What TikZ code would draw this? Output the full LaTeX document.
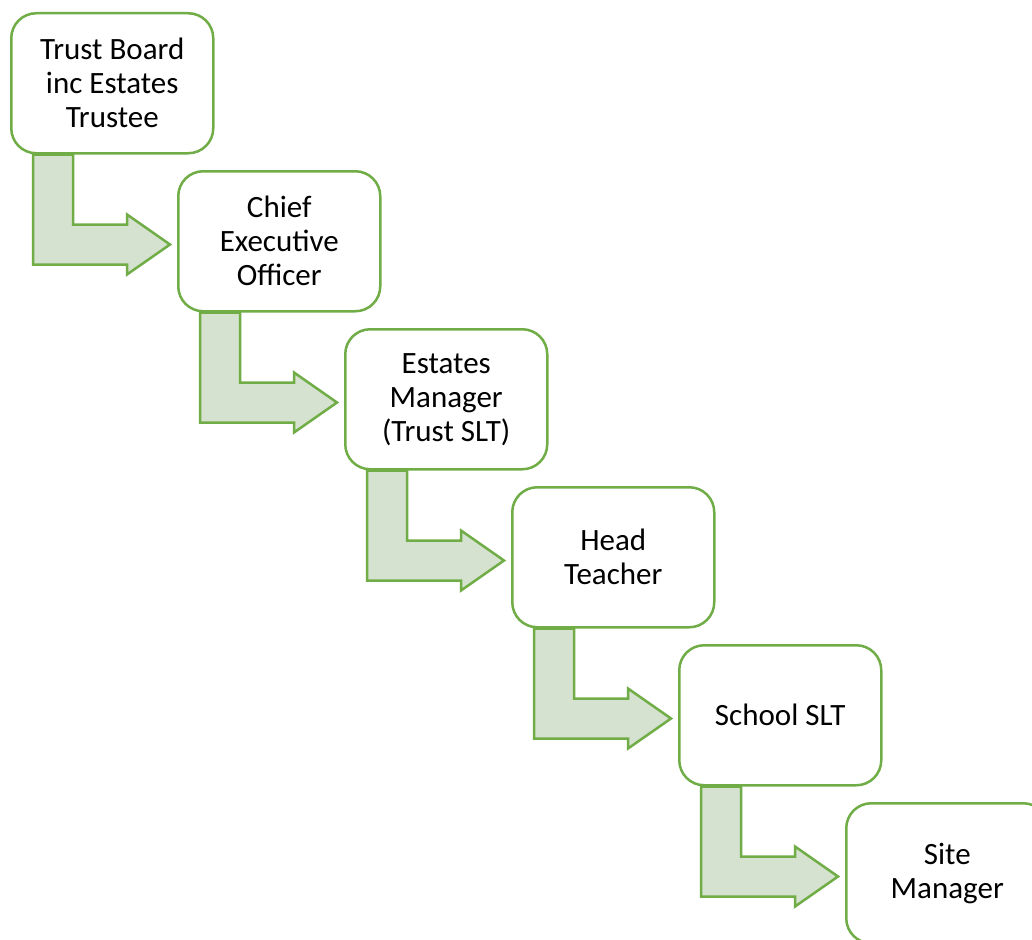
\documentclass[tikz,border=0pt]{standalone}
\usepackage{fontspec}
\setmainfont{Carlito}
\usetikzlibrary{backgrounds}
\definecolor{boxgreen}{HTML}{70AD47}
\definecolor{arrowfill}{HTML}{D5E2CF}
\begin{document}
\begin{tikzpicture}[x=1pt,y=-1pt,
  stagebox/.style={draw=boxgreen,line width=2.5pt,fill=white,rounded corners=25pt,
    minimum width=202pt,minimum height=140pt,inner sep=0pt,align=center,
    font=\fontsize{31pt}{34pt}\selectfont,anchor=north west},
  bentarrow/.style={draw=boxgreen,line width=2.5pt,fill=arrowfill,line join=miter}]
\clip (0,0) rectangle (1032,939);
\node[stagebox] (b0) at (10,12) {Trust Board\\inc Estates\\Trustee};
\node[stagebox] (b1) at (177,170) {Chief\\Executive\\Officer};
\node[stagebox] (b2) at (344,328) {Estates\\Manager\\(Trust SLT)};
\node[stagebox] (b3) at (511,486) {Head\\Teacher};
\node[stagebox] (b4) at (678,644) {School SLT};
\node[stagebox] (b5) at (845,802) {Site\\Manager};
\begin{scope}[on background layer]
\fill[white] (0,0) rectangle (1032,939);
\foreach \a in {0,...,4}{
  \begin{scope}[shift={(b\a.south west)}]
    \draw[bentarrow] (23,0) -- (63,0) -- (63,70) -- (117,70) -- (117,60) -- (160,90)
      -- (117,120) -- (117,110) -- (23,110) -- cycle;
  \end{scope}
}
\end{scope}
\end{tikzpicture}
\end{document}
